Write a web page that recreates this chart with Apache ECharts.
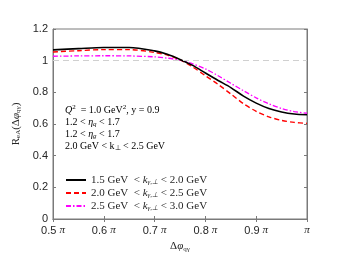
<!DOCTYPE html>
<html><head><meta charset="utf-8">
<script src="https://cdn.jsdelivr.net/npm/echarts@6/dist/echarts.min.js"></script>
<style>html,body{margin:0;padding:0;background:#fff}#c{width:350px;height:263px}</style>
</head><body><div id="c"></div>
<script>
// x in units of pi
const xValues = [0.5, 0.55, 0.6, 0.65, 0.7, 0.725, 0.75, 0.775, 0.8, 0.825, 0.85, 0.875, 0.9, 0.925, 0.95, 0.975, 1.0];
const black15 = [1.068, 1.076, 1.083, 1.083, 1.062, 1.04, 1.008, 0.97, 0.922, 0.875, 0.83, 0.776, 0.732, 0.698, 0.676, 0.663, 0.658];
const red20 = [1.055, 1.063, 1.07, 1.07, 1.052, 1.035, 1.006, 0.96, 0.905, 0.85, 0.79, 0.728, 0.68, 0.645, 0.623, 0.61, 0.604];
const mag25 = [1.028, 1.03, 1.031, 1.03, 1.024, 1.016, 1.003, 0.98, 0.948, 0.905, 0.857, 0.81, 0.765, 0.727, 0.698, 0.678, 0.668];
const xTicks = [0.5, 0.6, 0.7, 0.8, 0.9, 1.0];
const yTicks = [0, 0.2, 0.4, 0.6, 0.8, 1, 1.2];
const legendNames = ['1.5', '2.0', '2.5'];
const legendUpper = ['2.0', '2.5', '3.0'];

const serif = 'Liberation Serif';
const axisCol = '#7a7a7a';
const txtCol = '#262626';
const pairs = arr => xValues.map((x, i) => [x, arr[i]]);

const chart = echarts.init(document.getElementById('c'), null, {renderer: 'canvas'});
const legendRich = {
  a: {fontFamily: serif, fontSize: 11, color: txtCol, lineHeight: 12},
  i: {fontFamily: serif, fontSize: 11, fontStyle: 'italic', color: txtCol, lineHeight: 12},
  s: {fontFamily: serif, fontSize: 7, fontStyle: 'italic', color: txtCol, padding: [5, 0, 0, 0], lineHeight: 12}
};
const annRich = {
  a: {fontFamily: serif, fontSize: 10, color: txtCol, lineHeight: 12},
  i: {fontFamily: serif, fontSize: 10, fontStyle: 'italic', color: txtCol, lineHeight: 12},
  sup: {fontFamily: serif, fontSize: 7, color: txtCol, verticalAlign: 'top', padding: [0, 0, 6, 0], lineHeight: 12},
  s: {fontFamily: serif, fontSize: 7, fontStyle: 'italic', color: txtCol, padding: [5, 0, 0, 0], lineHeight: 12},
  sr: {fontFamily: serif, fontSize: 7, color: txtCol, padding: [5, 0, 0, 0], lineHeight: 12}
};
const names = legendNames.map((n, i) => n + ' GeV  < k' + ' ' + legendUpper[i]);
const series = [
  {arr: black15, color: '#000000', type: 'solid', w: 1.6},
  {arr: red20, color: '#ff0000', type: [5, 3], w: 1.4},
  {arr: mag25, color: '#ff00ff', type: [5, 2, 1.5, 2], w: 1.3}
].map((s, i) => ({
  name: names[i], type: 'line', data: pairs(s.arr), showSymbol: false, symbol: 'none', smooth: 0.3,
  lineStyle: {color: s.color, width: s.w, type: s.type}, itemStyle: {color: s.color},
  z: 3 - i
}));
series.push({
  name: 'ref', type: 'line', data: [], symbol: 'none',
  markLine: {silent: true, symbol: 'none', label: {show: false},
    lineStyle: {color: '#d0d0d0', type: [6, 4], width: 1},
    data: [{yAxis: 1}]}
});

const subRich = {a: {fontFamily: serif, fontSize: 11, color: txtCol}, i: {fontFamily: serif, fontSize: 11, fontStyle: 'italic', color: txtCol}, s: {fontFamily: serif, fontSize: 7, color: txtCol, padding: [5, 0, 0, 0]}};

chart.setOption({
  animation: false,
  grid: {left: 53, right: 43, top: 29, bottom: 44, show: true, borderColor: axisCol, borderWidth: 1},
  xAxis: [{
    type: 'value', min: 0.5, max: 1.0, interval: 0.1,
    name: '{a|Δ}{i|φ}{s|qγ}', nameLocation: 'middle', nameGap: 20,
    nameTextStyle: {rich: subRich},
    axisLine: {lineStyle: {color: axisCol}}, axisTick: {inside: true, length: 3, lineStyle: {color: axisCol}},
    splitLine: {show: false},
    axisLabel: {margin: 6, formatter: v => Math.abs(v - 1) < 1e-9 ? '{p|π}' : '{n|' + v.toFixed(1) + ' }{p|π}',
      rich: {n: {fontFamily: 'Liberation Sans', fontSize: 11, color: txtCol}, p: {fontFamily: serif, fontSize: 11, fontStyle: 'italic', color: txtCol}}}
  }, {
    type: 'value', min: 0.5, max: 1.0, interval: 0.1, position: 'top',
    axisLine: {lineStyle: {color: axisCol}}, axisTick: {inside: true, length: 3, lineStyle: {color: axisCol}},
    axisLabel: {show: false}, splitLine: {show: false}
  }],
  yAxis: [{
    type: 'value', min: 0, max: 1.2, interval: 0.2,
    name: '{a|R}{s|eA}{a|(Δ}{i|φ}{s|qγ}{a|)}', nameLocation: 'middle', nameGap: 24, nameRotate: 90,
    nameTextStyle: {rich: subRich},
    axisLine: {show: true, lineStyle: {color: axisCol}}, axisTick: {show: true, inside: true, length: 3, lineStyle: {color: axisCol}},
    splitLine: {show: false},
    axisLabel: {margin: 5, fontFamily: 'Liberation Sans', fontSize: 11, color: txtCol,
      formatter: v => yTicks.includes(+v.toFixed(1)) ? String(+v.toFixed(1)) : ''}
  }, {
    type: 'value', min: 0, max: 1.2, interval: 0.2, position: 'right',
    axisLine: {show: true, lineStyle: {color: axisCol}}, axisTick: {show: true, inside: true, length: 3, lineStyle: {color: axisCol}},
    axisLabel: {show: false}, splitLine: {show: false}
  }],
  legend: {
    orient: 'vertical', left: 60, top: 169, itemWidth: 20, itemHeight: 8, itemGap: 1,
    data: names,
    itemStyle: {opacity: 0},
    formatter: name => {
      const i = names.indexOf(name);
      return '{a|' + legendNames[i] + ' GeV  < }{i|k}{s|γ,⊥}{a| < ' + legendUpper[i] + ' GeV}';
    },
    textStyle: {rich: legendRich}
  },
  graphic: [{
    type: 'text', left: 65, top: 104,
    style: {
      text: '{i|Q}{sup|2}{a|  = 1.0 GeV}{sup|2}{a|, y = 0.9}\n{a|1.2 < }{i|η}{s|q}{a| < 1.7}\n{a|1.2 < }{i|η}{s|g}{a| < 1.7}\n{a|2.0 GeV < k}{sr|⊥}{a| < 2.5 GeV}',
      rich: annRich, lineHeight: 12
    }
  }],
  series: series
});
</script></body></html>
